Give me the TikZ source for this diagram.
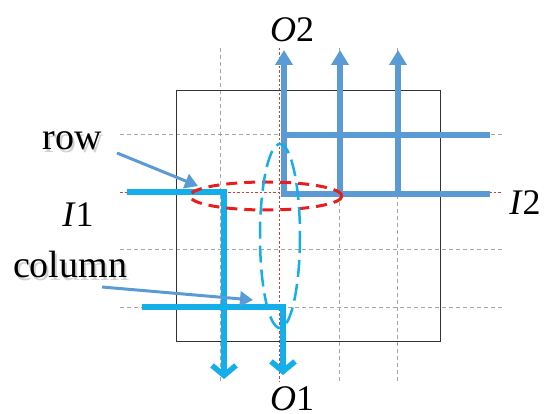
\documentclass[tikz,border=0pt]{standalone}
\usepackage{fontspec}
\setmainfont{Liberation Serif}
\usetikzlibrary{arrows.meta}
\definecolor{cyanb}{HTML}{14AEEA}
\definecolor{steelb}{HTML}{5B9BD5}
\definecolor{gridg}{HTML}{A6A6A6}
\definecolor{redd}{HTML}{E81E1E}
\definecolor{redthin}{HTML}{C84040}
\tikzset{
  gridline/.style={gridg, line width=0.8pt, dash pattern=on 4pt off 3pt},
  redline/.style={redthin, line width=0.8pt, dash pattern=on 2.5pt off 2pt},
  cyanpath/.style={cyanb, line width=5.5pt, line join=miter, -{Straight Barb[length=10pt,width=24pt]}},
  steelpath/.style={steelb, line width=5.5pt, line join=miter, -{Triangle[length=15pt,width=17pt]}},
  steelplain/.style={steelb, line width=5.5pt},
  pointer/.style={steelb, line width=3pt, -{Triangle[length=13pt,width=15pt]}},
  bigword/.style={font=\fontsize{38}{40}\selectfont, inner sep=0pt, anchor=base},
  shadowword/.style={bigword, text=black!30, opacity=0.6},
  portlabel/.style={font=\fontsize{36}{40}\selectfont, inner sep=0pt, anchor=base},
}
\begin{document}
\begin{tikzpicture}[x=1pt,y=-1pt]
\useasboundingbox (0,0) rectangle (544,414);
% grid
\foreach \x in {220,339,397} \draw[gridline] (\x,48) -- (\x,382);
\foreach \y in {134,249,307} \draw[gridline] (120,\y) -- (502,\y);
\draw[redline] (279,48) -- (279,382);
\draw[redline] (120,192) -- (502,192);
% box
\draw[black!80, line width=0.9pt] (176,90) rectangle (440,341);
% cyan (I1 -> O1)
\coordinate (a1) at (127,192);
\coordinate (a2) at (224,192);
\coordinate (a3) at (224,379);
\coordinate (b1) at (142,307);
\coordinate (b2) at (283,307);
\coordinate (b3) at (283,375);
\draw[cyanpath] (a1) -- (a2) -- (a3);
\draw[cyanpath] (b1) -- (b2) -- (b3);
% steel blue (I2 -> O2)
\coordinate (c1) at (490,194);
\coordinate (c2) at (284,194);
\coordinate (c3) at (284,50);
\coordinate (d1) at (340,194);
\coordinate (d2) at (340,50);
\coordinate (e1) at (398,194);
\coordinate (e2) at (398,50);
\coordinate (f1) at (282,135);
\coordinate (f2) at (490,135);
\draw[steelplain] (f1) -- (f2);
\draw[steelpath] (c1) -- (c2) -- (c3);
\draw[steelpath] (d1) -- (d2);
\draw[steelpath] (e1) -- (e2);
% ellipses
\draw[redd, line width=3pt, dash pattern=on 11pt off 7pt] (266,196) ellipse [x radius=76, y radius=14];
\draw[cyanb, line width=2.5pt, dash pattern=on 17pt off 7pt] (280,236) ellipse [x radius=20, y radius=92];
% labels
\node[shadowword] (rowsh) at (74,153) {row};
\node[bigword] (row) at (72,150) {row};
\node[shadowword] (colsh) at (72,281) {column};
\node[bigword] (col) at (70,278) {column};
\coordinate (rp) at (117,153);
\coordinate (rt) at (198,186);
\coordinate (cp) at (102,287);
\coordinate (ct) at (253,300);
\draw[pointer] (rp) -- (rt);
\draw[pointer] (cp) -- (ct);
\node[portlabel] (i1) at (78,227) {\textit{I}1};
\node[portlabel] (i2) at (525,215) {\textit{I}2};
\node[portlabel] (o1) at (292,410) {\textit{O}1};
\node[portlabel] (o2) at (292,42) {\textit{O}2};
\end{tikzpicture}
\end{document}
